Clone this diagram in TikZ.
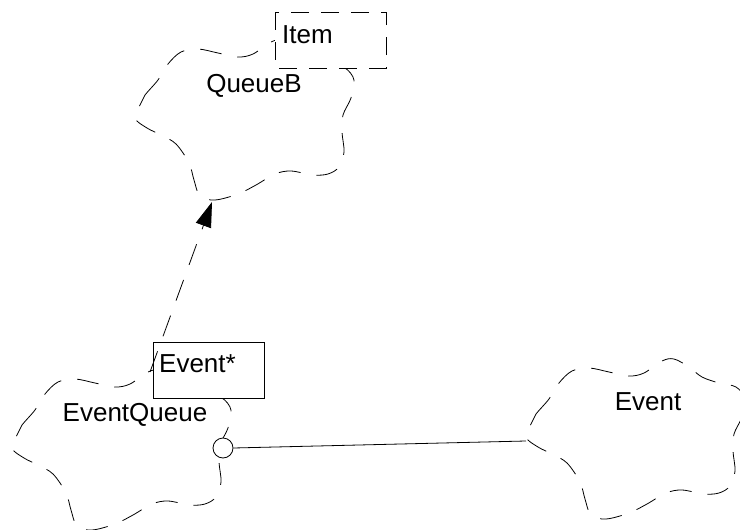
\documentclass[tikz,border=0pt]{standalone}
\usepackage{fontspec}
\setmainfont{Liberation Sans}
\usetikzlibrary{arrows.meta}
\tikzset{
  cloudline/.style={line width=0.8pt, dash pattern=on 22pt off 16pt},
  cloud/.pic={\draw[cloudline] plot[smooth cycle, tension=0.55] coordinates {
     (-102,-17) (-98,-25) (-85,-40) (-75,-56) (-62,-68) (-45,-71) (-25,-67) (-5,-63)
     (10,-66) (28,-78) (40,-80) (55,-72) (68,-62) (85,-56) (102,-52) (111,-40)
     (108,-22) (100,-5) (99,12) (101,32) (96,47) (85,54) (70,55) (48,51) (32,54)
     (13,65) (-5,74) (-28,80) (-43,76) (-49,60) (-54,43) (-67,24) (-82,15) (-96,8)
     (-108,-2)};},
  lbl/.style={font=\fontsize{26}{31}\selectfont, inner sep=0pt},
  parambox/.style={draw, fill=white, line width=0.8pt}
}
\begin{document}
\begin{tikzpicture}[x=1pt,y=-1pt]
\useasboundingbox (0,0) rectangle (740,530);
% clouds
\pic at (243,120) {cloud};
\pic at (120,450) {cloud};
\pic at (634,439) {cloud};
\node[lbl, anchor=base] (queueb) at (254,92) {QueueB};
\node[lbl, anchor=base] (eventqueue) at (135,421) {EventQueue};
\node[lbl, anchor=base] (event) at (648,410) {Event};
% template parameters
\draw[parambox, dash pattern=on 18pt off 12pt] (275,12) rectangle (386,68);
\node[lbl, anchor=base west] (item) at (282,43) {Item};
\draw[parambox] (153,342) rectangle (264,398);
\node[lbl, anchor=base west] (eventptr) at (159,372) {Event*};
% instantiation
\coordinate (eqtop) at (150,372);
\coordinate (qbbot) at (212,202);
\draw[cloudline, -{Triangle[length=25pt,width=16pt]}] (eqtop) -- (qbbot);
% uses
\node[draw, fill=white, circle, minimum size=20pt, inner sep=0pt, line width=0.8pt] (assoc) at (223,448) {};
\coordinate (evleft) at (526,441);
\draw[line width=0.8pt] (assoc.east) -- (evleft);
\end{tikzpicture}
\end{document}
